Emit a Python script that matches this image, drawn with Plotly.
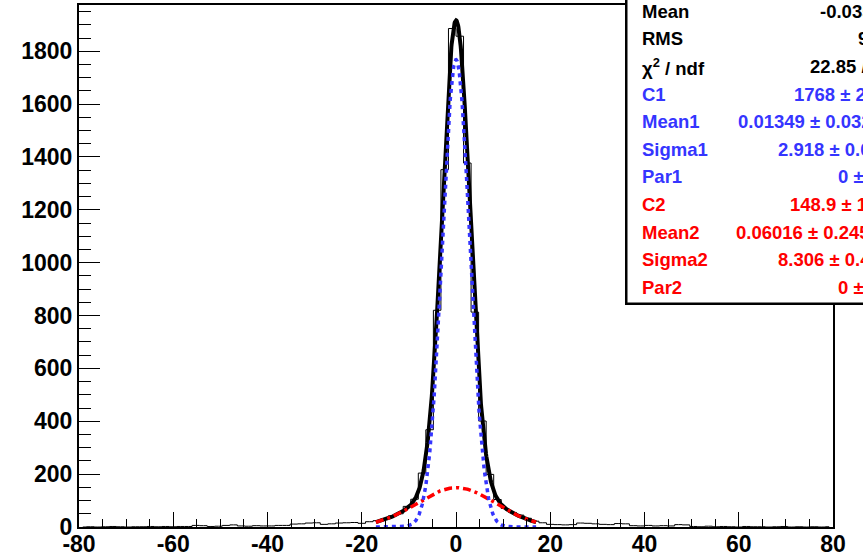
import numpy as np
import plotly.graph_objects as go

# ---------------- data ----------------
bin_edges_range = [-80.0, 80.0]
n_bins = 100
counts = [0, 1, 0, 1, 2, 1, 0, 1, 1, 2, 1, 2, 1, 2,
          2, 6, 5, 2, 3, 6, 8, 4, 3, 5, 4, 4, 6, 6, 11, 12, 15, 16, 10, 12,
          15, 16, 17, 14, 20, 24, 30, 42, 50,
          78, 105, 204, 368, 820, 1352, 1886, 1857, 1377, 813, 401, 199, 104,
          70, 55, 45, 33, 22,
          16, 10, 9, 8, 9, 15, 14, 12, 10, 9, 13, 12, 5, 4, 6, 4, 5, 4, 9, 8,
          2, 1, 3, 1, 2, 1, 0, 2, 1, 1, 0, 1, 2, 0, 1, 0, 1, 0, 1]

# fit parameters (C, Mean, Sigma, Par) read from the stats box
gaus1_params = [1768.0, 0.01349, 2.918, 0.0]
gaus2_params = [148.9, 0.06016, 8.306, 0.0]
fit_range = [-17.0, 17.0]

stats_labels = ["Mean", "RMS", "χ<sup>2</sup> / ndf", "C1", "Mean1", "Sigma1", "Par1",
                "C2", "Mean2", "Sigma2", "Par2"]
stats_values = ["-0.0352", "9.63", "22.85 / 17", "1768 ± 24.1", "0.01349 ± 0.0329",
                "2.918 ± 0.0351", "0 ± 0", "148.9 ± 10.7", "0.06016 ± 0.2451",
                "8.306 ± 0.4021", "0 ± 0"]
stats_groups = ["k", "k", "k", "b", "b", "b", "b", "r", "r", "r", "r"]
x_ticks = [-80, -60, -40, -20, 0, 20, 40, 60, 80]
x_tick_text = ["-80", "-60", "-40", "-20", "0", "20", "40", "60", "80"]
y_ticks = [0, 200, 400, 600, 800, 1000, 1200, 1400, 1600, 1800]
y_tick_text = ["0", "200", "400", "600", "800", "1000", "1200", "1400", "1600", "1800"]

# ---------------- styling ----------------
BLUE = "#3535ff"
RED = "#ff0000"
color_map = {"k": "black", "b": BLUE, "r": RED}
FONT = "Liberation Sans, Arial, Helvetica, sans-serif"

W, H = 863, 555
ML, MR, MT, MB = 79, 30, 5, 28
PW, PH = W - ML - MR, H - MT - MB

def px_to_paper_x(px):
    return (px - ML) / PW

def px_to_paper_y(py):
    return (H - MB - py) / PH

lo, hi = bin_edges_range
w = (hi - lo) / n_bins
centers = lo + (np.arange(n_bins) + 0.5) * w

def gaus(x, p):
    return p[0] * np.exp(-0.5 * ((x - p[1]) / p[2]) ** 2) + p[3]

xf = np.linspace(fit_range[0], fit_range[1], 500)
y1 = gaus(xf, gaus1_params)
y2 = gaus(xf, gaus2_params)
ytot = y1 + y2

fig = go.Figure()
fig.add_trace(go.Scatter(x=centers, y=counts, mode="lines", line=dict(color="black", width=1, shape="hvh"),
                         showlegend=False, hoverinfo="skip"))
fig.add_trace(go.Scatter(x=xf, y=ytot, mode="lines", line=dict(color="black", width=4),
                         showlegend=False, hoverinfo="skip"))
fig.add_trace(go.Scatter(x=xf, y=y2, mode="lines", line=dict(color=RED, width=3.5, dash="8px,4px,3px,4px"),
                         showlegend=False, hoverinfo="skip"))
fig.add_trace(go.Scatter(x=xf, y=y1, mode="lines", line=dict(color=BLUE, width=3.5, dash="4px,4px"),
                         showlegend=False, hoverinfo="skip"))

axis_common = dict(showgrid=False, zeroline=False, showline=True, linecolor="black", linewidth=2,
                   mirror=True, ticks="inside", tickcolor="black", tickwidth=1.2, automargin=False,
                   tickfont=dict(family=FONT, size=23, color="black", weight="bold"))
fig.update_xaxes(range=[lo, hi], tickmode="array", tickvals=x_ticks, ticktext=x_tick_text, ticklen=15,
                 minor=dict(dtick=5, tick0=0, ticklen=8, ticks="inside", tickcolor="black", tickwidth=1.2),
                 ticklabelstandoff=-5, **axis_common)
fig.update_yaxes(range=[0, 1975], tickmode="array", tickvals=y_ticks, ticktext=y_tick_text, ticklen=21,
                 minor=dict(dtick=50, tick0=0, ticklen=12, ticks="inside", tickcolor="black", tickwidth=1.2),
                 **axis_common)

# stats box (extends beyond right edge, cropped as in the reference)
box_l, box_b, box_r, box_t = 627, 303, 920, -20
fig.add_shape(type="rect", xref="paper", yref="paper",
              x0=px_to_paper_x(box_l - 2), x1=px_to_paper_x(box_r), y0=px_to_paper_y(box_b + 2), y1=px_to_paper_y(box_t),
              fillcolor="black", line=dict(width=0), layer="above")
fig.add_shape(type="rect", xref="paper", yref="paper",
              x0=px_to_paper_x(box_l), x1=px_to_paper_x(box_r), y0=px_to_paper_y(box_b), y1=px_to_paper_y(box_t),
              fillcolor="white", line=dict(color="black", width=1), layer="above")

label_x = 641
value_x = [819, 857, 809, 793, 737, 777, 837, 789, 735, 777, 837]
row0, row_step = 11.3, 27.6
for i, (lab, val, g) in enumerate(zip(stats_labels, stats_values, stats_groups)):
    yy = px_to_paper_y(row0 + i * row_step)
    c = color_map[g]
    fig.add_annotation(x=px_to_paper_x(label_x), y=yy, xref="paper", yref="paper", text=lab,
                       showarrow=False, xanchor="left", yanchor="middle", borderpad=0,
                       font=dict(family=FONT, size=18.5, color=c, weight="bold"))
    fig.add_annotation(x=px_to_paper_x(value_x[i]), y=yy, xref="paper", yref="paper", text=val,
                       showarrow=False, xanchor="left", yanchor="middle", borderpad=0,
                       font=dict(family=FONT, size=18.5, color=c, weight="bold"))

fig.update_layout(width=W, height=H, margin=dict(l=ML, r=MR, t=MT, b=MB, autoexpand=False),
                  paper_bgcolor="white", plot_bgcolor="white", showlegend=False)

fig.write_html("out.html", config={"displayModeBar": False},
               post_script="document.body.style.margin='0';document.body.style.overflow='hidden';")
